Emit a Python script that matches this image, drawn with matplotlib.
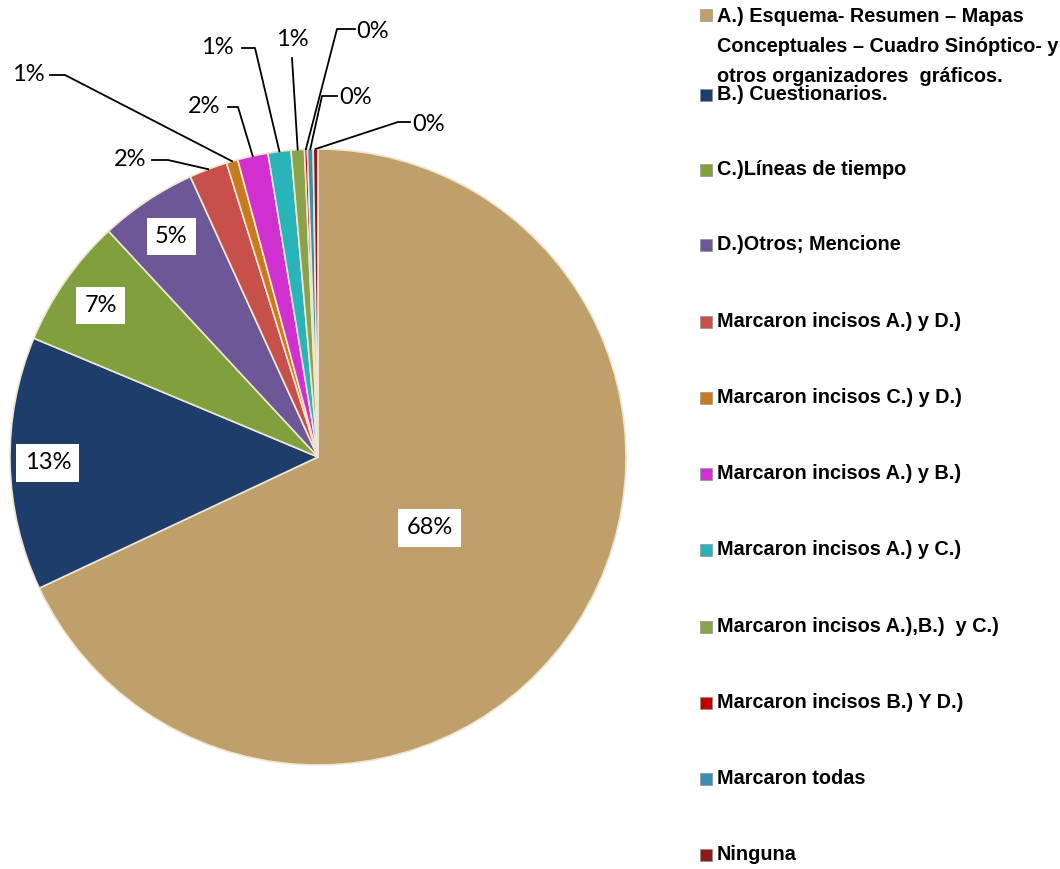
import numpy as np
import matplotlib
matplotlib.use("Agg")
import matplotlib.pyplot as plt

# categories and values (percent)
categorias = [
    "A.) Esquema- Resumen – Mapas\nConceptuales – Cuadro Sinóptico- y\notros organizadores  gráficos.",
    "B.) Cuestionarios.",
    "C.)Líneas de tiempo",
    "D.)Otros; Mencione",
    "Marcaron incisos A.) y D.)",
    "Marcaron incisos C.) y D.)",
    "Marcaron incisos A.) y B.)",
    "Marcaron incisos A.) y C.)",
    "Marcaron incisos A.),B.)  y C.)",
    "Marcaron incisos B.) Y D.)",
    "Marcaron todas",
    "Ninguna",
]
valores = [68.0, 13.3, 6.8, 5.1, 2.0, 0.6, 1.6, 1.2, 0.7, 0.15, 0.3, 0.25]
etiquetas = ["68%", "13%", "7%", "5%", "2%", "1%", "2%", "1%", "1%", "0%", "0%", "0%"]
colores = ["#BFA06A", "#1F3D6B", "#80A03E", "#6E5797", "#C8504A", "#C87A1E",
           "#D030D0", "#28B4B8", "#8AA34A", "#C00000", "#3A8CB0", "#8B1A1A"]

fig = plt.figure(figsize=(10.6, 8.69), dpi=100)
ax = fig.add_axes([0, 0, 1, 1])
R = 308.0  # px per data unit
cx, cy = 318.0, 457.0

def px(x, y):
    return (x - cx) / R, (cy - y) / R

wedges, _ = ax.pie(valores, colors=colores, startangle=90, counterclock=False,
                   radius=1.0, wedgeprops=dict(edgecolor="#EFE6D2", linewidth=1.2))
ax.set_xlim(-cx / R, (1060 - cx) / R)
ax.set_ylim((cy - 869) / R, cy / R)
ax.set_aspect("equal")
ax.axis("off")

pct_font = dict(family=["Lato", "DejaVu Sans"], fontsize=17, color="black")

# inner labels with white boxes
dist_in = [0.43, 0.877, 0.86, 0.86]
for i in range(4):
    w = wedges[i]
    ang = np.deg2rad((w.theta1 + w.theta2) / 2)
    r = dist_in[i]
    ax.text(r * np.cos(ang), r * np.sin(ang), etiquetas[i], ha="center", va="center",
            bbox=dict(facecolor="white", edgecolor="none", pad=6), **pct_font)

# outer labels with leader lines: text x, text y, stub start x, elbow x, stub y (px)
layout = {
    4: (130, 160, 152, 168, 160),
    5: (28, 75, 50, 65, 75),
    6: (204, 107, 228, 238, 107),
    7: (217, 48, 242, 255, 48),
    8: (292, 40, None, None, None),
    9: (373, 32, 355, 337, 29),
    10: (356, 98, 337, 322, 96),
    11: (429, 125, 410, 398, 122),
}
for i, (tx, ty, sx, ex, ey) in layout.items():
    w = wedges[i]
    ang = np.deg2rad((w.theta1 + w.theta2) / 2)
    p = (np.cos(ang), np.sin(ang))
    x0, y0 = px(tx, ty)
    ax.text(x0, y0, etiquetas[i], ha="center", va="center", **pct_font)
    if sx is None:
        a = px(tx, ty + 18)
        ax.plot([a[0], p[0]], [a[1], p[1]], color="black", lw=1.3)
    else:
        s = px(sx, ey)
        e = px(ex, ey)
        ax.plot([s[0], e[0], p[0]], [s[1], e[1], p[1]], color="black", lw=1.3)

# legend
leg_font = dict(family=["Liberation Sans Narrow", "Liberation Sans", "DejaVu Sans"],
                fontsize=14.3, fontweight="bold", color="black")
leg_y = [15, 95, 170, 245, 322, 398, 474, 550, 627, 703, 779, 855]
for i, nombre in enumerate(categorias):
    y = leg_y[i]
    x0, y0 = px(700, y + 6)
    ax.add_patch(plt.Rectangle((x0, y0), 12 / R, 12 / R, facecolor=colores[i],
                               edgecolor="#888888", linewidth=0.4))
    tx, ty = px(717, y)
    if i == 0:
        tx, ty = px(717, 7)
    ax.text(tx, ty, nombre, ha="left", va="center" if i else "top",
            linespacing=1.72, **leg_font)

fig.savefig("out.png", dpi=100)
